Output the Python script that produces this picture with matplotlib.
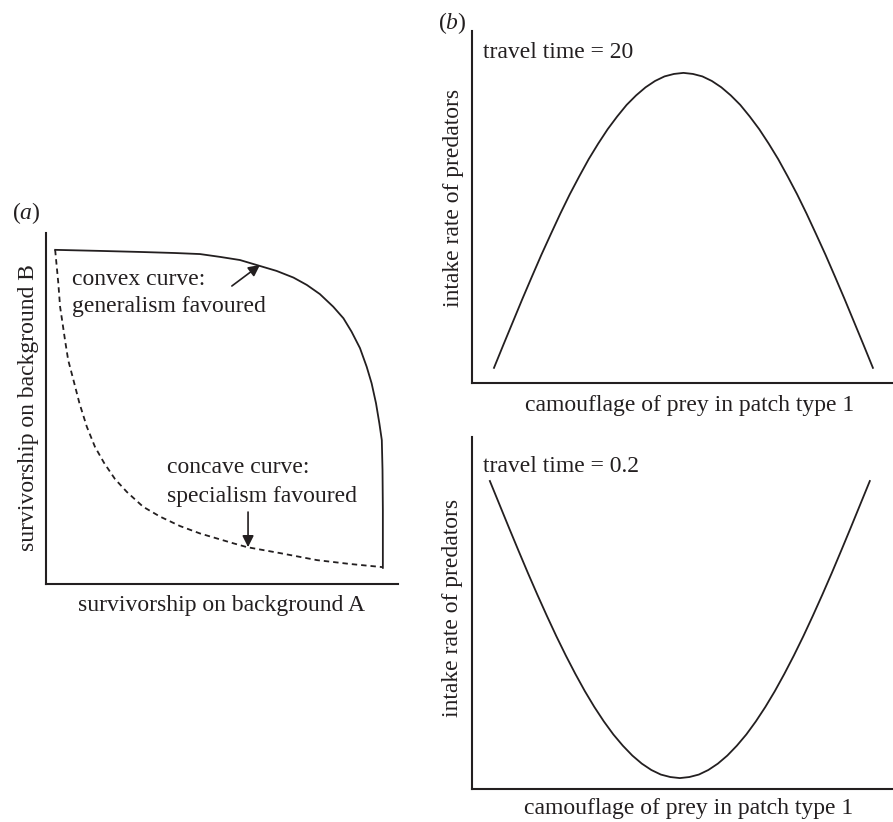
"""
Trade-off curves (a) and predator intake vs prey camouflage (b)
"""

import numpy as np
import matplotlib
matplotlib.use('Agg')
import matplotlib.pyplot as plt

plt.rcParams['font.family'] = ['Liberation Serif', 'DejaVu Serif']
plt.rcParams['mathtext.fontset'] = 'custom'
plt.rcParams['mathtext.rm'] = 'Liberation Serif'
plt.rcParams['mathtext.it'] = 'Liberation Serif:italic'

# ---- data ----
# panel a: survivorship on A (x) and on B (y), both 0..1
convex_A = [0.026, 0.153, 0.267, 0.366, 0.4375, 0.494, 0.551, 0.608, 0.655,
            0.703, 0.741, 0.778, 0.816, 0.845, 0.868, 0.892, 0.911, 0.925,
            0.9375, 0.947, 0.954, 0.956, 0.957, 0.957]
convex_B = [0.952, 0.949, 0.946, 0.943, 0.940, 0.932, 0.923, 0.906, 0.892,
            0.873, 0.852, 0.826, 0.790, 0.757, 0.719, 0.672, 0.619, 0.572,
            0.515, 0.458, 0.410, 0.325, 0.211, 0.046]

concave_A = [0.026, 0.035, 0.040, 0.047, 0.054, 0.063, 0.078, 0.095, 0.116,
             0.139, 0.165, 0.196, 0.230, 0.276, 0.324, 0.381, 0.4375, 0.532,
             0.571, 0.665, 0.770, 0.864, 0.957]
concave_B = [0.952, 0.857, 0.790, 0.743, 0.695, 0.638, 0.581, 0.515, 0.448,
             0.391, 0.345, 0.299, 0.262, 0.220, 0.192, 0.165, 0.144, 0.116,
             0.105, 0.088, 0.068, 0.057, 0.048]

# arrows: (tail, head) in panel a units
convex_arrow = [(0.528, 0.849), (0.608, 0.909)]
concave_arrow = [(0.574, 0.205), (0.574, 0.105)]

# panel b: camouflage in patch type 1 (0..1) and intake rate
camouflage = np.linspace(0, 1, 41)
intake_tt20 = [0.043, 0.109, 0.174, 0.239, 0.302, 0.364, 0.423, 0.481, 0.536,
               0.587, 0.636, 0.680, 0.721, 0.757, 0.790, 0.817, 0.840, 0.858,
               0.871, 0.878, 0.881, 0.878, 0.871, 0.858, 0.840, 0.817, 0.790,
               0.757, 0.721, 0.680, 0.636, 0.587, 0.536, 0.481, 0.423, 0.364,
               0.302, 0.239, 0.174, 0.109, 0.043]
intake_tt02 = [0.875, 0.809, 0.743, 0.678, 0.614, 0.552, 0.492, 0.434, 0.379,
               0.327, 0.278, 0.233, 0.192, 0.155, 0.123, 0.095, 0.072, 0.054,
               0.041, 0.034, 0.031, 0.034, 0.041, 0.054, 0.072, 0.095, 0.123,
               0.155, 0.192, 0.233, 0.278, 0.327, 0.379, 0.434, 0.492, 0.552,
               0.614, 0.678, 0.743, 0.809, 0.875]

# ---- plotting ----
plt.close('all')
fs = 17
ink = '#231f20'
W, H = 893, 822

fig = plt.figure(figsize=(W / 100, H / 100), dpi=100)


def px_axes(left, top, right, bottom):
    # axes rectangle from pixel edges
    return fig.add_axes([left / W, (H - bottom) / H, (right - left) / W, (bottom - top) / H])


def clean(ax):
    for s in ['top', 'right']:
        ax.spines[s].set_visible(False)
    for s in ['left', 'bottom']:
        ax.spines[s].set_linewidth(1.5)
        ax.spines[s].set_color(ink)
    ax.set_xticks([])
    ax.set_yticks([])


def labels(ax, xl, yl, xpos, ypos):
    ax.set_xlabel(xl, fontsize=fs, color=ink)
    ax.set_ylabel(yl, fontsize=fs, color=ink)
    ax.xaxis.label.set_va('center')
    ax.yaxis.label.set_va('center')
    ax.xaxis.set_label_coords(*xpos)
    ax.yaxis.set_label_coords(*ypos)


# (a)
ax = px_axes(46, 233, 398, 584)
clean(ax)
ax.set_xlim(0, 1)
ax.set_ylim(0, 1)
ax.plot(convex_A, convex_B, color=ink, lw=1.3, solid_joinstyle='round')
ax.plot(concave_A, concave_B, color=ink, lw=1.3, linestyle=(0, (3, 2.2)))
ax.text(0.074, 0.852, 'convex curve:', fontsize=fs, color=ink, va='baseline')
ax.text(0.074, 0.775, 'generalism favoured', fontsize=fs, color=ink, va='baseline')
ax.text(0.344, 0.316, 'concave curve:', fontsize=fs, color=ink, va='baseline')
ax.text(0.344, 0.234, 'specialism favoured', fontsize=fs, color=ink, va='baseline')
for tail, head in [convex_arrow, concave_arrow]:
    ax.annotate('', xy=head, xytext=tail,
                arrowprops=dict(arrowstyle='-|>', color=ink, lw=1.2,
                                mutation_scale=17, shrinkA=0, shrinkB=0))
labels(ax, 'survivorship on background A', 'survivorship on background B',
       (0.5, -0.06), (-0.051, 0.504))
fig.text(12 / W, (H - 213) / H, '($a$)', fontsize=fs, color=ink, va='center')

# (b) top
ax1 = px_axes(472, 31, 893, 383)
clean(ax1)
ax1.set_xlim(-0.058, 1.053)
ax1.set_ylim(0, 1)
ax1.plot(camouflage, intake_tt20, color=ink, lw=1.3)
ax1.text(0.026, 0.923, 'travel time = 20', fontsize=fs, color=ink,
         va='baseline', transform=ax1.transAxes)
labels(ax1, 'camouflage of prey in patch type 1', 'intake rate of predators',
       (0.518, -0.0625), (-0.045, 0.526))
fig.text(438 / W, (H - 23) / H, '($b$)', fontsize=fs, color=ink, va='center')

# (b) bottom
ax2 = px_axes(472, 437, 893, 789)
clean(ax2)
ax2.set_xlim(-0.047, 1.061)
ax2.set_ylim(0, 1)
ax2.plot(camouflage, intake_tt02, color=ink, lw=1.3)
ax2.text(0.026, 0.901, 'travel time = 0.2', fontsize=fs, color=ink,
         va='baseline', transform=ax2.transAxes)
labels(ax2, 'camouflage of prey in patch type 1', 'intake rate of predators',
       (0.515, -0.054), (-0.0475, 0.514))

fig.savefig('out.png', dpi=100)
